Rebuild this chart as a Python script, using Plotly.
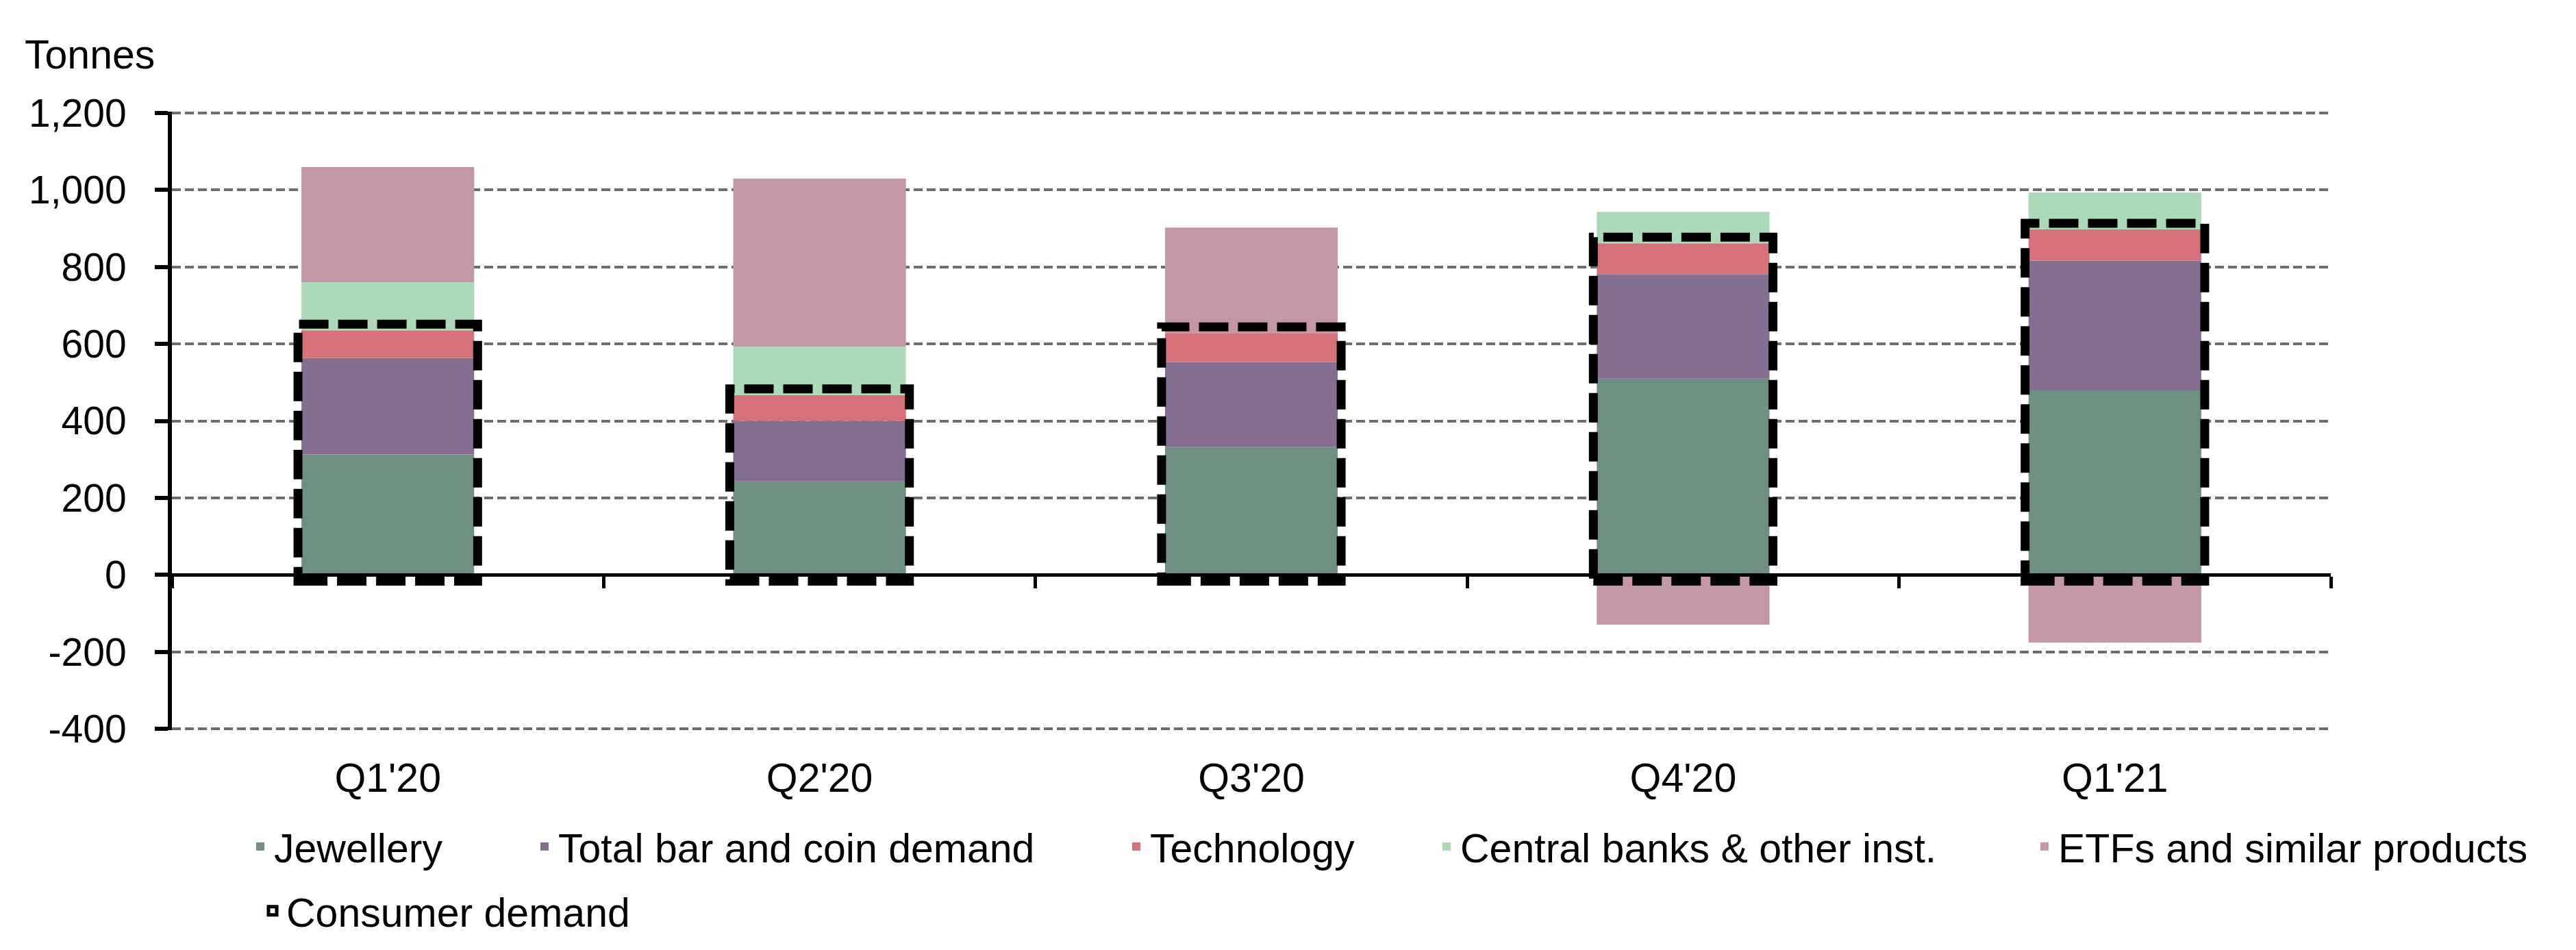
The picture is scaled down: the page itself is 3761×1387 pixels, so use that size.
import numpy as np
import plotly.graph_objects as go

# ---- data (tonnes) ----
quarters = ["Q1'20", "Q2'20", "Q3'20", "Q4'20", "Q1'21"]
jewellery = [313, 243, 332, 510, 479]
bar_coin = [250, 157, 221, 271, 337]
technology = [72, 67, 75, 80, 81]
central_banks = [125, 126, 0, 82, 96]
etfs = [299, 436, 274, -129, -176]
y_ticks = [-400, -200, 0, 200, 400, 600, 800, 1000, 1200]
y_tick_text = [f"{v:,}" for v in y_ticks]

# ---- style ----
W, H = 3761, 1387
ML, MR, MT, MB = 243, 366, 155, 329
EPS = 3  # small range padding so the end gridlines are drawn
FONT = "Liberation Sans, Arial, sans-serif"
FS = 59
FS_Y = 57
colors = {
    "Jewellery": "#6F8F81",
    "Total bar and coin demand": "#846F93",
    "Technology": "#D6707B",
    "Central banks & other inst.": "#ACDAB8",
    "ETFs and similar products": "#C397A5",
}
BARGAP = 0.6
BOX_PAD_Y = 16
BOX_PAD_X = 0.008

series = [
    ("Jewellery", jewellery, "legend"),
    ("Total bar and coin demand", bar_coin, "legend2"),
    ("Technology", technology, "legend3"),
    ("Central banks & other inst.", central_banks, "legend4"),
    ("ETFs and similar products", etfs, "legend5"),
]

fig = go.Figure()
for name, vals, lg in series:
    fig.add_trace(go.Bar(
        x=quarters, y=vals, name=name, legend=lg,
        marker=dict(color=colors[name], line=dict(width=0)),
        hoverinfo="skip",
    ))

# dummy trace to carry the zero-line axis
fig.add_trace(go.Scatter(x=[None], y=[None], xaxis="x2", yaxis="y",
                         showlegend=False, hoverinfo="skip"))

# consumer demand boxes (jewellery + bar & coin + technology)
consumer = np.array(jewellery) + np.array(bar_coin) + np.array(technology)
half = (1 - BARGAP) / 2
for i, cd in enumerate(consumer):
    fig.add_shape(
        type="rect", xref="x", yref="y",
        x0=i - half - BOX_PAD_X, x1=i + half + BOX_PAD_X,
        y0=-BOX_PAD_Y, y1=float(cd) + BOX_PAD_Y,
        line=dict(color="black", width=13, dash="43px,14px"),
        fillcolor="rgba(0,0,0,0)", layer="above",
        showlegend=(i == 0), name="Consumer demand", legend="legend6",
    )

plot_w = W - ML - MR
plot_h = H - MT - MB


def px_x(p):
    return (p - ML) / plot_w


def px_y(p):
    return (H - MB - p) / plot_h


legend_common = dict(orientation="h", bgcolor="rgba(0,0,0,0)",
                     font=dict(family=FONT, size=FS, color="black"),
                     xanchor="left", yanchor="middle", borderwidth=0)
text_starts = [392, 807, 1671, 2124, 2997, 410]
rows = [1228, 1228, 1228, 1228, 1228, 1322]
legend_layout = {}
for k, (tx, ry) in enumerate(zip(text_starts, rows)):
    key = "legend" if k == 0 else f"legend{k + 1}"
    legend_layout[key] = dict(legend_common, x=px_x(tx - 40), y=px_y(ry))

n = len(quarters)
y_lo, y_hi = y_ticks[0] - EPS, y_ticks[-1] + EPS
fig.update_layout(
    width=W, height=H, autosize=False,
    margin=dict(l=ML, r=MR, t=MT, b=MB),
    paper_bgcolor="white", plot_bgcolor="white",
    barmode="relative", bargap=BARGAP,
    font=dict(family=FONT, size=FS, color="black"),
    showlegend=True,
    xaxis=dict(
        type="category", categoryorder="array", categoryarray=quarters,
        range=[-0.5, n - 0.5], showline=False, showgrid=False, zeroline=False,
        ticks="", ticklabelstandoff=30,
        tickfont=dict(family=FONT, size=FS, color="black"),
    ),
    xaxis2=dict(
        overlaying="x", anchor="free",
        position=(0 - y_lo) / (y_hi - y_lo),
        type="linear", range=[-0.5, n - 0.5],
        tickmode="array", tickvals=list(np.arange(n + 1) - 0.5),
        showticklabels=False, ticks="outside", ticklen=17, tickwidth=4.5,
        tickcolor="black", showline=True, linecolor="black", linewidth=4.5,
        showgrid=False, zeroline=False,
    ),
    yaxis=dict(
        range=[y_lo, y_hi], tickmode="array", tickvals=y_ticks,
        ticktext=y_tick_text, showline=True, linecolor="black", linewidth=6,
        ticks="outside", ticklen=19, tickwidth=6, tickcolor="black",
        ticklabelstandoff=30,
        showgrid=True, gridcolor="#6d6d6d", gridwidth=4, griddash="13px,6px",
        zeroline=False,
        tickfont=dict(family=FONT, size=FS_Y, color="black"),
    ),
    annotations=[dict(
        text="Tonnes", xref="paper", yref="paper",
        x=px_x(26), y=px_y(72), xanchor="left", yanchor="middle",
        showarrow=False, font=dict(family=FONT, size=FS, color="black"),
    )],
    **legend_layout,
)

fig.write_html("out.html")
